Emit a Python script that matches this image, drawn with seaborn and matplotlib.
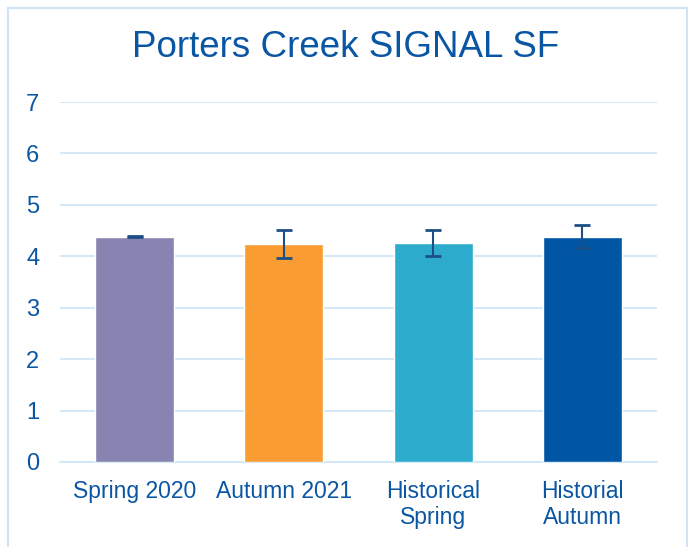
import matplotlib
matplotlib.use("Agg")
import matplotlib.pyplot as plt
import seaborn as sns
import pandas as pd
from matplotlib.patches import Rectangle

categories = ["Spring 2020", "Autumn 2021", "Historical\nSpring", "Historial\nAutumn"]
values = [4.38, 4.24, 4.26, 4.38]
errors = [0.01, 0.27, 0.26, 0.22]
colors = ["#8884B1", "#F99D32", "#2DABCD", "#0055A5"]
yticks = [0, 1, 2, 3, 4, 5, 6, 7]

sns.set_theme(style="white")
plt.rcParams["font.family"] = ["Liberation Sans", "DejaVu Sans"]
text_color = "#0A56A3"
grid_color = "#D5E8F8"

df = pd.DataFrame({"cat": categories, "val": values})

fig = plt.figure(figsize=(6.91, 5.47), dpi=100)
ax = fig.add_axes([60/691, 1-462/547, (657-60)/691, (462-102)/547])

sns.barplot(data=df, x="cat", y="val", hue="cat", palette=colors, width=0.53,
            legend=False, ax=ax, zorder=3, saturation=1)
ax.errorbar(range(len(categories)), values, yerr=errors, fmt="none",
            ecolor="#1D4F86", elinewidth=1.5, capsize=5.5, capthick=2, zorder=4)

ax.set_ylim(0, 7)
ax.set_xlim(-0.5, 3.5)
ax.set_yticks(yticks)
ax.yaxis.grid(True, color=grid_color, linewidth=1.5, zorder=0)
ax.set_axisbelow(True)
for s in ["top", "right", "left"]:
    ax.spines[s].set_visible(False)
ax.spines["bottom"].set_color(grid_color)
ax.spines["bottom"].set_linewidth(1.5)
ax.set_xlabel("")
ax.set_ylabel("")
ax.tick_params(axis="y", length=0, pad=15, labelsize=17, labelcolor=text_color)
ax.tick_params(axis="x", length=0, pad=13, labelsize=16.5, labelcolor=text_color)
for lbl in ax.get_xticklabels():
    lbl.set_linespacing(1.15)

fig.text(0.5, 1-48/547, "Porters Creek SIGNAL SF", ha="center", va="center",
         fontsize=26.5, color=text_color)

fig.patches.append(Rectangle((8/691, -0.01), (687-8)/691, (547-8)/547 + 0.01,
                             transform=fig.transFigure, fill=False,
                             edgecolor="#CFE4F7", linewidth=1.5))

fig.savefig("out.png", dpi=100)
